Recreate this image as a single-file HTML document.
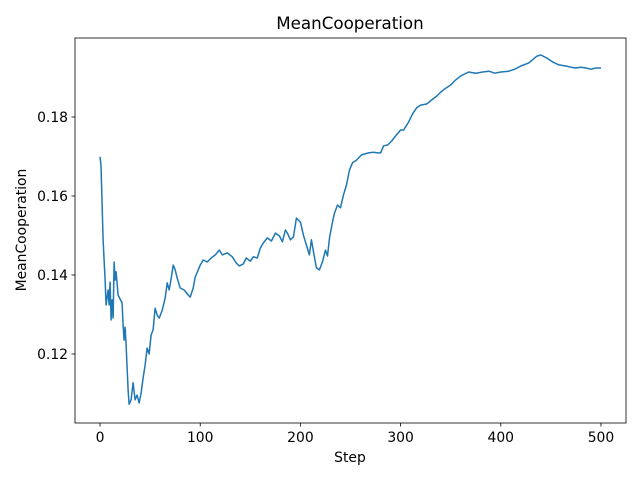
<!DOCTYPE html>
<html><head><meta charset="utf-8"><style>
body{margin:0;background:#fff;font-family:"Liberation Sans","DejaVu Sans",sans-serif}
svg text{font-family:"DejaVu Sans","Liberation Sans",sans-serif;font-size:13.9px;fill:#000}
</style></head><body>
<svg id="chart" width="640" height="480" xmlns="http://www.w3.org/2000/svg">
<rect width="640" height="480" fill="#fff"/>
<text x="350" y="29" text-anchor="middle" style="font-size:16.7px">MeanCooperation</text>
<text x="350" y="462" text-anchor="middle">Step</text>
<text transform="translate(26,230) rotate(-90)" text-anchor="middle">MeanCooperation</text>
<g id="ticks"></g>
<path id="series" fill="none" stroke="#1f77b4" stroke-width="1.5" stroke-linejoin="round"/>
<rect x="75" y="38" width="551" height="385" fill="none" stroke="#000" stroke-width="0.8"/>
</svg>
<script>
const steps=[0,1,3,5,6,8,9,10,11,12,13,14,15,16,18,22,23,24,25,26,28,29,31,33,35,37,39,41,43,45,47,49,51,53,55,57,59,62,65,67,69,71,73,75,77,80,84,88,90,93,95,98,100,103,107,111,115,119,122,127,132,136,139,143,146,150,153,157,160,163,167,171,175,179,182,185,187,190,193,196,200,203,206,209,211,214,216,219,222,225,227,229,232,234,237,240,243,246,249,252,256,261,268,273,277,280,283,287,291,295,300,303,308,312,316,320,326,331,336,340,345,350,355,360,368,375,382,388,394,400,408,414,420,428,436,440,446,452,458,465,470,475,480,485,490,495,500];
const values=[0.1699,0.1678,0.1489,0.1387,0.1324,0.1362,0.1324,0.1382,0.1286,0.1337,0.1291,0.1433,0.1387,0.1408,0.1349,0.1329,0.1273,0.1235,0.1268,0.1223,0.1109,0.1073,0.1084,0.1127,0.1084,0.1096,0.1076,0.1101,0.1139,0.1172,0.1215,0.1200,0.1248,0.1261,0.1316,0.1299,0.1291,0.1311,0.1342,0.1380,0.1362,0.1392,0.1425,0.1413,0.1392,0.1367,0.1362,0.1349,0.1344,0.1367,0.1395,0.1413,0.1425,0.1438,0.1433,0.1443,0.1451,0.1463,0.1451,0.1456,0.1446,0.1430,0.1423,0.1428,0.1443,0.1435,0.1446,0.1443,0.1468,0.1481,0.1494,0.1486,0.1506,0.1499,0.1484,0.1514,0.1506,0.1489,0.1496,0.1544,0.1534,0.1501,0.1476,0.1451,0.1489,0.1446,0.1418,0.1413,0.1433,0.1463,0.1448,0.1494,0.1534,0.1557,0.1577,0.1570,0.1603,0.1628,0.1666,0.1684,0.1691,0.1704,0.1709,0.1711,0.1709,0.1709,0.1727,0.1729,0.1739,0.1752,0.1767,0.1767,0.1787,0.1808,0.1823,0.1830,0.1833,0.1843,0.1853,0.1863,0.1873,0.1881,0.1894,0.1904,0.1914,0.1911,0.1914,0.1916,0.1911,0.1914,0.1916,0.1921,0.1929,0.1937,0.1954,0.1957,0.1949,0.1939,0.1932,0.1929,0.1926,0.1924,0.1926,0.1924,0.1921,0.1924,0.1924];
const xTicks=[0,100,200,300,400,500];
const yTicks=[0.12,0.14,0.16,0.18];
const yTickLabels=["0.12","0.14","0.16","0.18"];
const X0=75,X1=626,Y0=423,Y1=38,xmin=-25,xmax=525,ymin=0.10253,ymax=0.2;
function sx(v){return X0+(v-xmin)/(xmax-xmin)*(X1-X0);}
function sy(v){return Y0-(v-ymin)/(ymax-ymin)*(Y0-Y1);}
const NS="http://www.w3.org/2000/svg";
const g=document.getElementById('ticks');
xTicks.forEach(t=>{
  const l=document.createElementNS(NS,'line');
  
  
  l.setAttribute('x1',sx(t));l.setAttribute('x2',sx(t));l.setAttribute('y1',Y0);l.setAttribute('y2',Y0+3.5);l.setAttribute('stroke','#000');l.setAttribute('stroke-width','0.8');g.appendChild(l);
  const tx=document.createElementNS(NS,'text');
  
  
  tx.setAttribute('x',sx(t));tx.setAttribute('y',Y0+19);tx.setAttribute('text-anchor','middle');tx.textContent=t;g.appendChild(tx);
});
yTicks.forEach((t,i)=>{
  const l=document.createElementNS(NS,'line');
  
  
  l.setAttribute('x1',X0-3.5);l.setAttribute('x2',X0);l.setAttribute('y1',sy(t));l.setAttribute('y2',sy(t));l.setAttribute('stroke','#000');l.setAttribute('stroke-width','0.8');g.appendChild(l);
  const tx=document.createElementNS(NS,'text');
  
  
  tx.setAttribute('x',X0-7);tx.setAttribute('y',sy(t)+5);tx.setAttribute('text-anchor','end');tx.textContent=yTickLabels[i];g.appendChild(tx);
});
document.getElementById('series').setAttribute('d',steps.map((s,i)=>(i?'L':'M')+sx(s).toFixed(1)+','+sy(values[i]).toFixed(1)).join(''));
</script>
</body></html>
